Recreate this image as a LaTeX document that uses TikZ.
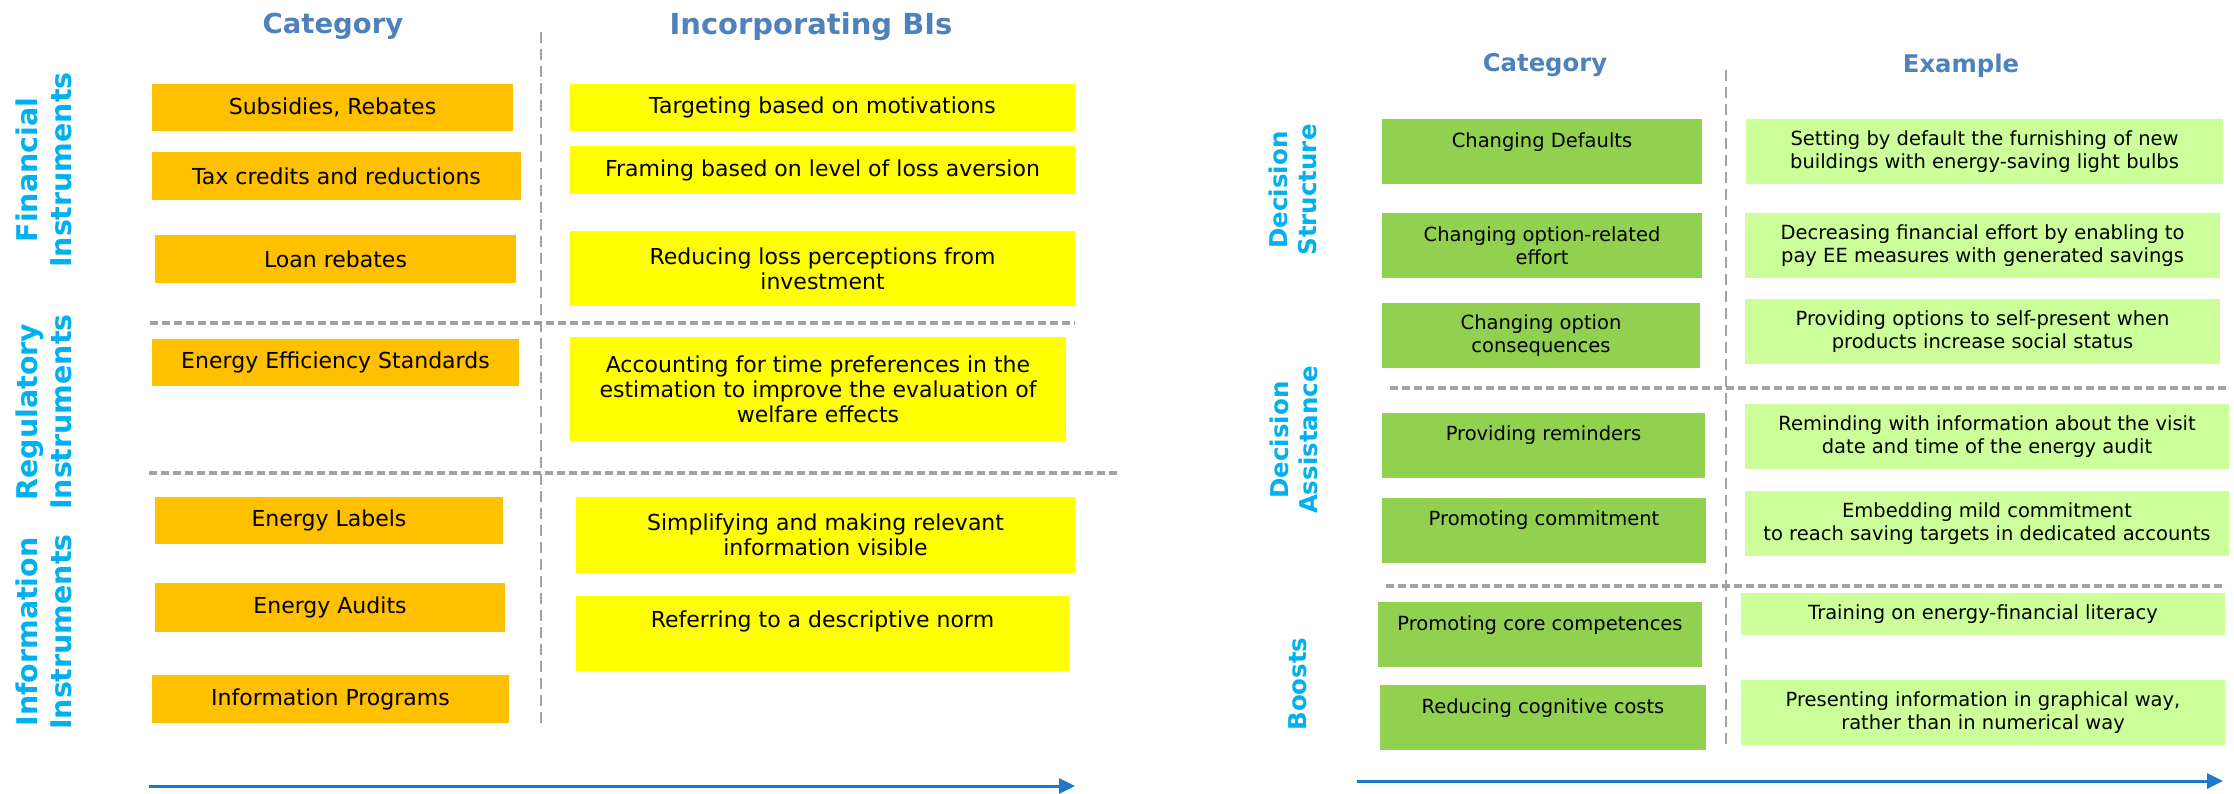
\documentclass[tikz,border=0pt]{standalone}
\usepackage{fontspec}
\setmainfont{DejaVu Sans}
\usepackage{xcolor}
\usetikzlibrary{arrows.meta}

\definecolor{catorange}{HTML}{FFC000}
\definecolor{biyellow}{HTML}{FFFF00}
\definecolor{nudgegreen}{HTML}{92D050}
\definecolor{examplegreen}{HTML}{CCFF99}
\definecolor{headblue}{HTML}{4F81BD}
\definecolor{sideblue}{HTML}{00B0F0}
\definecolor{axisblue}{HTML}{1F78C8}
\definecolor{sepgray}{HTML}{A2A2A2}

\newcommand{\leftboxfont}{\fontsize{22}{25}\selectfont}
\newcommand{\rightboxfont}{\fontsize{19.5}{22.5}\selectfont}

\begin{document}
\begin{tikzpicture}[x=1pt, y=-1pt, inner sep=0pt]
\tikzstyle{catbox}=[fill=catorange, align=center, font=\leftboxfont]
\tikzstyle{bibox}=[fill=biyellow, align=center, font=\leftboxfont]
\tikzstyle{nudgebox}=[fill=nudgegreen, align=center, font=\rightboxfont]
\tikzstyle{examplebox}=[fill=examplegreen, align=center, font=\rightboxfont]
\tikzstyle{toptext}=[text height=28pt, text depth=37pt]
\tikzstyle{headL}=[anchor=base, text=headblue, font=\fontsize{27.5}{32}\selectfont\bfseries]
\tikzstyle{headR}=[anchor=base, text=headblue, font=\fontsize{24.3}{28}\selectfont\bfseries]
\tikzstyle{sideL}=[rotate=90, align=center, text=sideblue, font=\fontsize{28.5}{34}\selectfont\bfseries]
\tikzstyle{sideR}=[rotate=90, align=center, text=sideblue, font=\fontsize{24.5}{28.5}\selectfont\bfseries]
\tikzstyle{vsep}=[sepgray, line width=2.5pt, dash pattern=on 11pt off 6pt]
\tikzstyle{hsep}=[sepgray, line width=3.2pt, dash pattern=on 8pt off 4pt]
\tikzstyle{axis}=[axisblue, line width=3pt, -{Triangle[length=16pt,width=15pt]}]

\useasboundingbox (0,0) rectangle (2234,793);

% ---- instruments and behavioural insights ----
\coordinate (lvtop) at (541,32);
\coordinate (lvbot) at (541,723);
\coordinate (lh1a) at (150,323);
\coordinate (lh1b) at (1075,323);
\coordinate (lh2a) at (149,473);
\coordinate (lh2b) at (1118,473);
\coordinate (laxa) at (149,786);
\coordinate (laxb) at (1075,786);

\draw[vsep] (lvtop) -- (lvbot);
\draw[hsep] (lh1a) -- (lh1b);
\draw[hsep] (lh2a) -- (lh2b);
\draw[axis] (laxa) -- (laxb);

\node[headL] (lcat) at (333,33) {Category};
\node[headL, font=\fontsize{29}{33}\selectfont\bfseries] (lbi) at (811,34) {Incorporating BIs};

\node[sideL] (fin) at (44,170) {Financial\\Instruments};
\node[sideL] (reg) at (44,412) {Regulatory\\Instruments};
\node[sideL] (inf) at (44,632) {Information\\Instruments};

\node[catbox, minimum width=361, minimum height=47] (sub) at (332.5,107.5) {Subsidies, Rebates};
\node[catbox, minimum width=369, minimum height=48] (tax) at (336.5,176) {Tax credits and reductions};
\node[catbox, minimum width=361, minimum height=48] (loan) at (335.5,259) {Loan rebates};
\node[catbox, minimum width=367, minimum height=47] (ees) at (335.5,362.5) {Energy Efficiency Standards};
\node[catbox, minimum width=348, minimum height=47] (lab) at (329,520.5) {Energy Labels};
\node[catbox, minimum width=350, minimum height=49] (aud) at (330,607.5) {Energy Audits};
\node[catbox, minimum width=357, minimum height=48] (prog) at (330.5,699) {Information Programs};

\node[bibox, minimum width=505, minimum height=47] (mot) at (822.5,107.5) {Targeting based on motivations};
\node[bibox, minimum width=505, minimum height=48] (fram) at (822.5,170) {Framing based on level of loss aversion};
\node[bibox, minimum width=505, minimum height=75] (loss) at (822.5,268.5) {Reducing loss perceptions from\\investment};
\node[bibox, minimum width=496, minimum height=104] (time) at (818,389) {Accounting for time preferences in the\\estimation to improve the evaluation of\\welfare effects};
\node[bibox, minimum width=499, minimum height=76] (vis) at (825.5,535) {Simplifying and making relevant\\information visible};
\node[bibox, minimum width=493, text height=31pt, text depth=44pt] (norm) at (822.5,633.5) {Referring to a descriptive norm};

% ---- nudges and boosts ----
\coordinate (rvtop) at (1726,70);
\coordinate (rvbot) at (1726,750);
\coordinate (rh1a) at (1390,388);
\coordinate (rh1b) at (2229,388);
\coordinate (rh2a) at (1386,586);
\coordinate (rh2b) at (2226,586);
\coordinate (raxa) at (1357,781);
\coordinate (raxb) at (2223,781);

\draw[vsep] (rvtop) -- (rvbot);
\draw[hsep] (rh1a) -- (rh1b);
\draw[hsep] (rh2a) -- (rh2b);
\draw[axis] (raxa) -- (raxb);

\node[headR] (rcat) at (1545,71) {Category};
\node[headR] (rex) at (1961,72) {Example};

\node[sideR] (struct) at (1293,190) {Decision\\Structure};
\node[sideR] (assist) at (1294,440) {Decision\\Assistance};
\node[sideR] (boost) at (1298,684) {Boosts};

\node[nudgebox, toptext, minimum width=320] (def) at (1542,151.5) {Changing Defaults};
\node[nudgebox, minimum width=320, minimum height=65] (eff) at (1542,245.5) {Changing option-related\\effort};
\node[nudgebox, minimum width=318, minimum height=65] (con) at (1541,335.5) {Changing option\\consequences};
\node[nudgebox, toptext, minimum width=323] (rem) at (1543.5,445) {Providing reminders};
\node[nudgebox, toptext, minimum width=324] (com) at (1544,530) {Promoting commitment};
\node[nudgebox, toptext, minimum width=324] (core) at (1540,634.5) {Promoting core competences};
\node[nudgebox, toptext, minimum width=326] (cog) at (1543,717.5) {Reducing cognitive costs};

\node[examplebox, minimum width=477, minimum height=65] (bulbs) at (1984.5,151.5) {Setting by default the furnishing of new\\buildings with energy-saving light bulbs};
\node[examplebox, minimum width=475, minimum height=65] (pay) at (1982.5,245.5) {Decreasing financial effort by enabling to\\pay EE measures with generated savings};
\node[examplebox, minimum width=475, minimum height=65] (status) at (1982.5,331.5) {Providing options to self-present when\\products increase social status};
\node[examplebox, minimum width=484, minimum height=65] (visit) at (1987,436.5) {Reminding with information about the visit\\date and time of the energy audit};
\node[examplebox, minimum width=484, minimum height=65] (accts) at (1987,523.5) {Embedding mild commitment\\to reach saving targets in dedicated accounts};
\node[examplebox, minimum width=484, minimum height=42] (lit) at (1983,614) {Training on energy-financial literacy};
\node[examplebox, minimum width=484, minimum height=65] (graph) at (1983,712.5) {Presenting information in graphical way,\\rather than in numerical way};
\end{tikzpicture}
\end{document}
